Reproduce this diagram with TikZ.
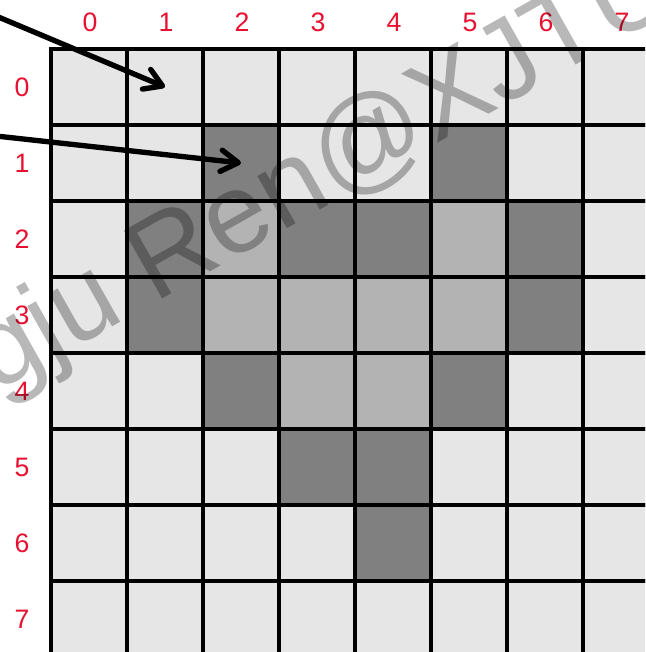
\documentclass[tikz,border=0pt]{standalone}
\usepackage{fontspec}
\setmainfont{Liberation Sans}
\usetikzlibrary{arrows.meta}
\definecolor{lblred}{RGB}{232,16,48}
\definecolor{cLight}{RGB}{230,230,230}
\definecolor{cMid}{RGB}{179,179,179}
\definecolor{cDark}{RGB}{128,128,128}
\begin{document}
\begin{tikzpicture}[x=0.75pt,y=-0.75pt,
  cell/.style={draw=black, line width=2.4pt, minimum size=57pt, inner sep=0pt, outer sep=0pt},
  shade0/.style={fill=cLight},
  shade1/.style={fill=cMid},
  shade2/.style={fill=cDark},
  lbl/.style={text=lblred, font=\fontsize{20}{24}\selectfont, inner sep=0pt},
  pointer/.style={line width=4pt, line cap=round,
    -{Straight Barb[length=13pt,width=16pt,line cap=round,line join=round]}},
  wm/.style={text=black, text opacity=0.28, font=\fontsize{85}{100}\selectfont,
    rotate=29.5, anchor=base west, inner sep=0pt}]
\useasboundingbox (0,0) rectangle (645,652);
\clip (0,0) rectangle (645,652);
% grid of cells
\foreach \r/\row in {0/{0,0,0,0,0,0,0,0},
                     1/{0,0,2,0,0,2,0,0},
                     2/{0,2,1,2,2,1,2,0},
                     3/{0,2,1,1,1,1,2,0},
                     4/{0,0,2,1,1,2,0,0},
                     5/{0,0,0,2,2,0,0,0},
                     6/{0,0,0,0,2,0,0,0},
                     7/{0,0,0,0,0,0,0,0}}{
  \foreach \v [count=\c from 0] in \row {
    \node[cell, shade\v] (c-\r-\c) at ({89+76*\c},{87+76*\r}) {};
  }
}
% labels
\foreach \i in {0,...,7}{
  \node[lbl] (col\i) at ({90+76*\i},22) {\i};
  \node[lbl] (row\i) at (22,{87+76*\i}) {\i};
}
% arrows
\coordinate (s1) at (-4,16);
\coordinate (s2) at (-4,136);
\draw[pointer] (s1) -- (c-0-1.center);
\draw[pointer] (s2) -- (c-1-2.center);
% watermark
\node[wm] (wm) at (-147,474) {Xingju Ren@XJTU};
\end{tikzpicture}
\end{document}
